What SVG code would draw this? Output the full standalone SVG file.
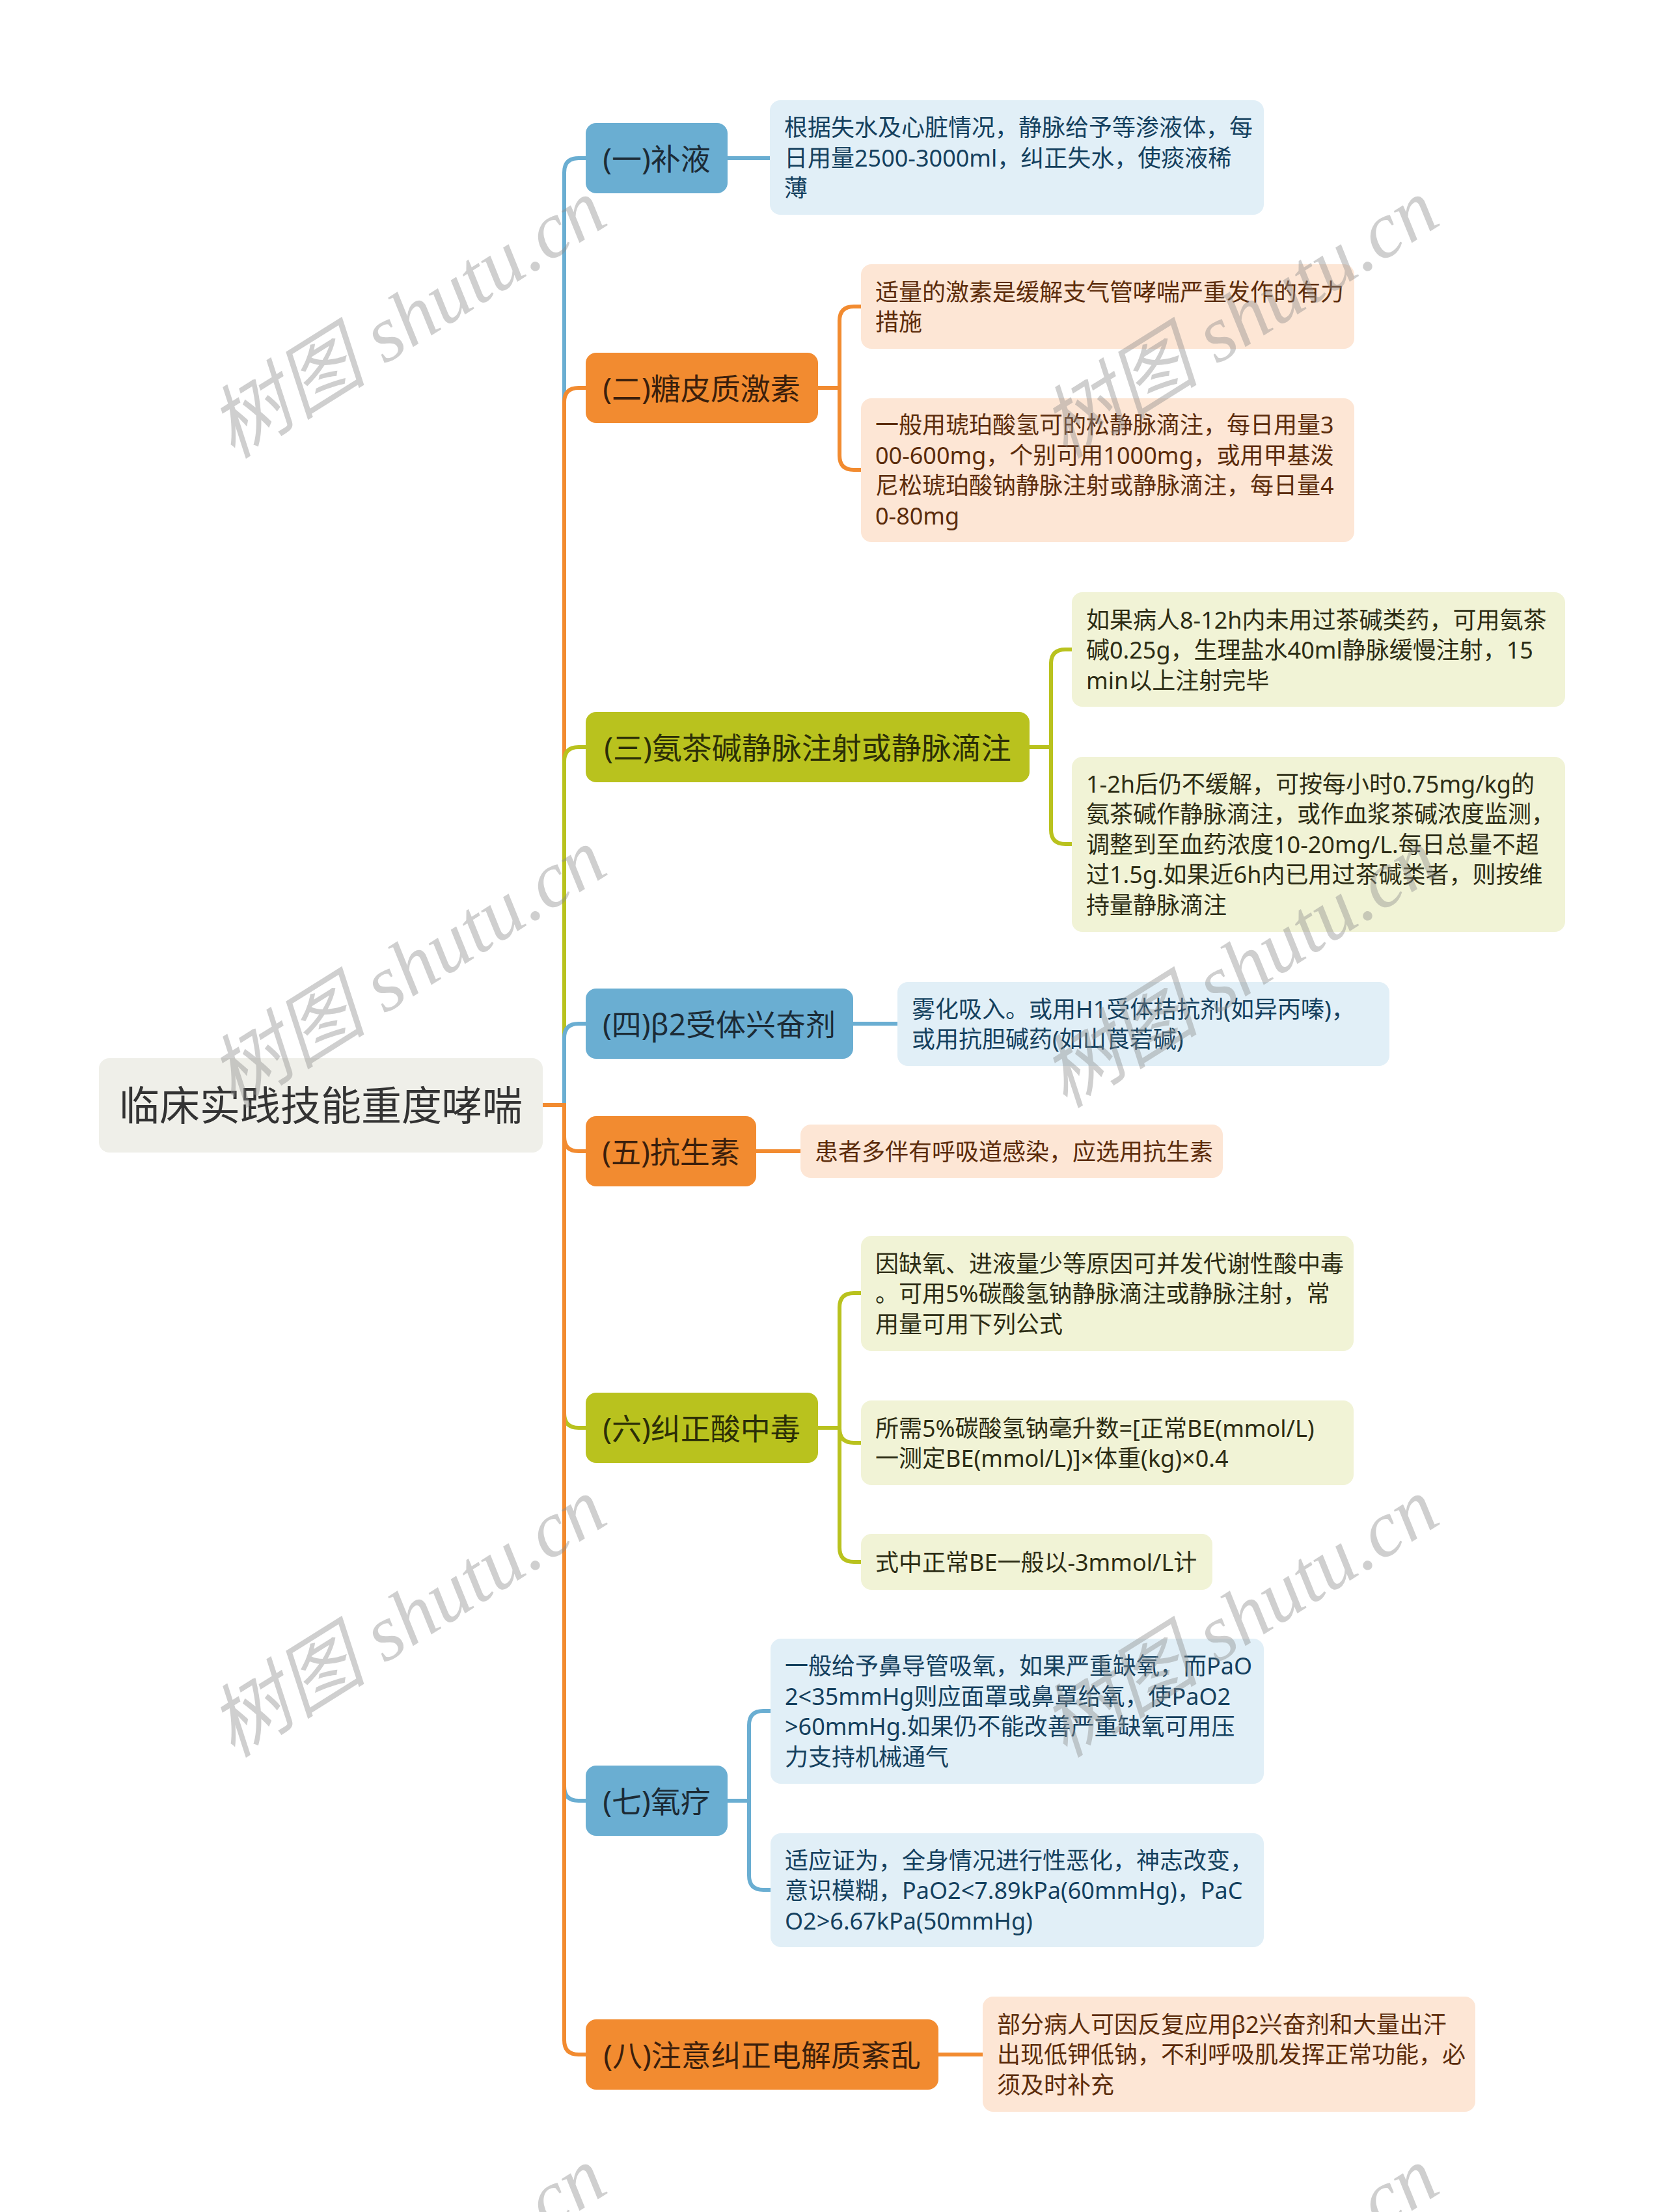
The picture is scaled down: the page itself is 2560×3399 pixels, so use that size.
<svg xmlns="http://www.w3.org/2000/svg" width="2560" height="3399" viewBox="0 0 2560 3399">
<style>
text{font-family:"Noto Sans","Noto Sans CJK SC",sans-serif;dominant-baseline:central}
.root rect{fill:#efefe9}
.root text{font-size:62px;fill:#333333;text-anchor:middle}
.n text{font-size:46px;text-anchor:middle}
.b rect{fill:#6aaed2}.b text{fill:#1c2b36}
.o rect{fill:#f28b30}.o text{fill:#3b1f0c}
.g rect{fill:#b9c21e}.g text{fill:#2b2e07}
.l text{font-size:36px}
.lb rect{fill:#e1eff7}.lb text{fill:#14405e}
.lo rect{fill:#fde6d5}.lo text{fill:#5c2c0b}
.lg rect{fill:#f1f3d6}.lg text{fill:#2c2c14}
.c path{fill:none;stroke-width:6}
.cb{stroke:#6aaed2}.co{stroke:#f28b30}.cg{stroke:#b9c21e}
.wm text{font-family:"Liberation Serif","Noto Sans CJK SC",serif;font-style:italic;font-size:122px;fill:#8c8c8c;fill-opacity:0.42;dominant-baseline:auto}
</style>
<rect width="2560" height="3399" fill="#ffffff"/>
<g id="connectors" class="c">
<path class="cb" d="M833 1698 H867 V265 Q867 243 889 243 H900"/>
<path class="co" d="M833 1698 H867 V618 Q867 596 889 596 H900"/>
<path class="cg" d="M833 1698 H867 V1170 Q867 1148 889 1148 H900"/>
<path class="cb" d="M833 1698 H867 V1595 Q867 1573 889 1573 H900"/>
<path class="co" d="M833 1698 H867 V1747 Q867 1769 889 1769 H900"/>
<path class="cg" d="M833 1698 H867 V2172 Q867 2194 889 2194 H900"/>
<path class="cb" d="M833 1698 H867 V2745 Q867 2767 889 2767 H900"/>
<path class="co" d="M833 1698 H867 V3135 Q867 3157 889 3157 H900"/>
<path class="cb" d="M1118 243 H1183"/>
<path class="co" d="M1257 596 H1290 V493 Q1290 471 1312 471 H1323"/>
<path class="co" d="M1257 596 H1290 V700 Q1290 722 1312 722 H1323"/>
<path class="cg" d="M1582 1148 H1615 V1020 Q1615 998 1637 998 H1647"/>
<path class="cg" d="M1582 1148 H1615 V1275 Q1615 1297 1637 1297 H1647"/>
<path class="cb" d="M1311 1573 H1379"/>
<path class="co" d="M1162 1769 H1230"/>
<path class="cg" d="M1257 2194 H1290 V2009 Q1290 1987 1312 1987 H1323"/>
<path class="cg" d="M1257 2194 H1290 V2195 Q1290 2217 1312 2217 H1323"/>
<path class="cg" d="M1257 2194 H1290 V2378 Q1290 2400 1312 2400 H1323"/>
<path class="cb" d="M1118 2767 H1151 V2651 Q1151 2629 1173 2629 H1184"/>
<path class="cb" d="M1118 2767 H1151 V2882 Q1151 2904 1173 2904 H1184"/>
<path class="co" d="M1442 3157 H1510"/>
</g>
<g id="root" class="root"><rect x="152" y="1626" width="682" height="145" rx="16"/><text x="493" y="1698">临床实践技能重度哮喘</text></g>
<g id="n1" class="n b"><rect x="900" y="189" width="218" height="108" rx="16"/><text x="1009" y="243">(一)补液</text></g>
<g id="n2" class="n o"><rect x="900" y="542" width="357" height="108" rx="16"/><text x="1078" y="596">(二)糖皮质激素</text></g>
<g id="n3" class="n g"><rect x="900" y="1094" width="682" height="108" rx="16"/><text x="1241" y="1148">(三)氨茶碱静脉注射或静脉滴注</text></g>
<g id="n4" class="n b"><rect x="900" y="1519" width="411" height="108" rx="16"/><text x="1105" y="1573">(四)β2受体兴奋剂</text></g>
<g id="n5" class="n o"><rect x="900" y="1715" width="262" height="108" rx="16"/><text x="1031" y="1769">(五)抗生素</text></g>
<g id="n6" class="n g"><rect x="900" y="2140" width="357" height="108" rx="16"/><text x="1078" y="2194">(六)纠正酸中毒</text></g>
<g id="n7" class="n b"><rect x="900" y="2713" width="218" height="108" rx="16"/><text x="1009" y="2767">(七)氧疗</text></g>
<g id="n8" class="n o"><rect x="900" y="3103" width="542" height="108" rx="16"/><text x="1171" y="3157">(八)注意纠正电解质紊乱</text></g>
<g id="l1" class="l lb"><rect x="1183" y="154" width="759" height="176" rx="16"/><text x="1205"><tspan x="1205" y="195">根据失水及心脏情况，静脉给予等渗液体，每</tspan><tspan x="1205" y="242">日用量2500-3000ml，纠正失水，使痰液稀</tspan><tspan x="1205" y="288">薄</tspan></text></g>
<g id="l2a" class="l lo"><rect x="1323" y="406" width="758" height="130" rx="16"/><text><tspan x="1345" y="448">适量的激素是缓解支气管哮喘严重发作的有力</tspan><tspan x="1345" y="494">措施</tspan></text></g>
<g id="l2b" class="l lo"><rect x="1323" y="612" width="758" height="221" rx="16"/><text><tspan x="1345" y="652">一般用琥珀酸氢可的松静脉滴注，每日用量3</tspan><tspan x="1345" y="699">00-600mg，个别可用1000mg，或用甲基泼</tspan><tspan x="1345" y="745">尼松琥珀酸钠静脉注射或静脉滴注，每日量4</tspan><tspan x="1345" y="792">0-80mg</tspan></text></g>
<g id="l3a" class="l lg"><rect x="1647" y="910" width="758" height="176" rx="16"/><text><tspan x="1669" y="952">如果病人8-12h内未用过茶碱类药，可用氨茶</tspan><tspan x="1669" y="998">碱0.25g，生理盐水40ml静脉缓慢注射，15</tspan><tspan x="1669" y="1045">min以上注射完毕</tspan></text></g>
<g id="l3b" class="l lg"><rect x="1647" y="1163" width="758" height="269" rx="16"/><text><tspan x="1669" y="1204">1-2h后仍不缓解，可按每小时0.75mg/kg的</tspan><tspan x="1669" y="1250">氨茶碱作静脉滴注，或作血浆茶碱浓度监测，</tspan><tspan x="1669" y="1297">调整到至血药浓度10-20mg/L.每日总量不超</tspan><tspan x="1669" y="1343">过1.5g.如果近6h内已用过茶碱类者，则按维</tspan><tspan x="1669" y="1390">持量静脉滴注</tspan></text></g>
<g id="l4" class="l lb"><rect x="1379" y="1509" width="756" height="129" rx="16"/><text><tspan x="1401" y="1550">雾化吸入。或用H1受体拮抗剂(如异丙嗪)，</tspan><tspan x="1401" y="1596">或用抗胆碱药(如山莨菪碱)</tspan></text></g>
<g id="l5" class="l lo"><rect x="1230" y="1728" width="649" height="82" rx="16"/><text x="1252" y="1769">患者多伴有呼吸道感染，应选用抗生素</text></g>
<g id="l6a" class="l lg"><rect x="1323" y="1899" width="757" height="177" rx="16"/><text><tspan x="1345" y="1941">因缺氧、进液量少等原因可并发代谢性酸中毒</tspan><tspan x="1345" y="1987">。可用5%碳酸氢钠静脉滴注或静脉注射，常</tspan><tspan x="1345" y="2034">用量可用下列公式</tspan></text></g>
<g id="l6b" class="l lg"><rect x="1323" y="2152" width="757" height="130" rx="16"/><text><tspan x="1345" y="2194">所需5%碳酸氢钠毫升数=[正常BE(mmol/L)</tspan><tspan x="1345" y="2240">一测定BE(mmol/L)]×体重(kg)×0.4</tspan></text></g>
<g id="l6c" class="l lg"><rect x="1323" y="2357" width="540" height="86" rx="16"/><text x="1345" y="2400">式中正常BE一般以-3mmol/L计</text></g>
<g id="l7a" class="l lb"><rect x="1184" y="2518" width="758" height="223" rx="16"/><text><tspan x="1206" y="2559">一般给予鼻导管吸氧，如果严重缺氧，而PaO</tspan><tspan x="1206" y="2606">2&lt;35mmHg则应面罩或鼻罩给氧，使PaO2</tspan><tspan x="1206" y="2652">&gt;60mmHg.如果仍不能改善严重缺氧可用压</tspan><tspan x="1206" y="2699">力支持机械通气</tspan></text></g>
<g id="l7b" class="l lb"><rect x="1184" y="2817" width="758" height="175" rx="16"/><text><tspan x="1206" y="2858">适应证为，全身情况进行性恶化，神志改变，</tspan><tspan x="1206" y="2904">意识模糊，PaO2&lt;7.89kPa(60mmHg)，PaC</tspan><tspan x="1206" y="2951">O2&gt;6.67kPa(50mmHg)</tspan></text></g>
<g id="l8" class="l lo"><rect x="1510" y="3068" width="757" height="177" rx="16"/><text><tspan x="1532" y="3110">部分病人可因反复应用β2兴奋剂和大量出汗</tspan><tspan x="1532" y="3156">出现低钾低钠，不利呼吸肌发挥正常功能，必</tspan><tspan x="1532" y="3203">须及时补充</tspan></text></g>
<g id="watermarks" class="wm">
<text transform="translate(358 706) rotate(-32)">树图 shutu.cn</text>
<text transform="translate(1637 706) rotate(-32)">树图 shutu.cn</text>
<text transform="translate(358 1704) rotate(-32)">树图 shutu.cn</text>
<text transform="translate(1637 1704) rotate(-32)">树图 shutu.cn</text>
<text transform="translate(358 2702) rotate(-32)">树图 shutu.cn</text>
<text transform="translate(1637 2702) rotate(-32)">树图 shutu.cn</text>
<text transform="translate(358 3730) rotate(-32)">树图 shutu.cn</text>
<text transform="translate(1637 3730) rotate(-32)">树图 shutu.cn</text>
</g>
</svg>
